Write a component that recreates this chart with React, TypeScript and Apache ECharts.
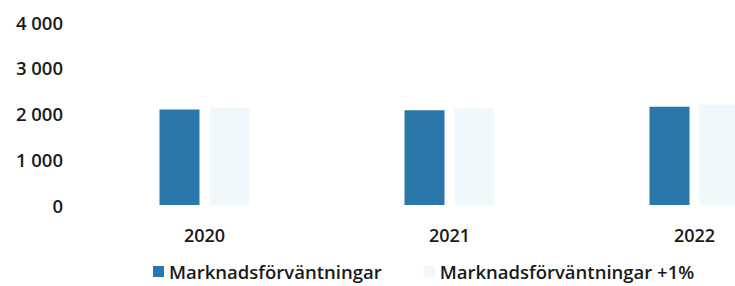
import React, { useEffect, useRef } from "react";
import * as echarts from "echarts";

const categories = ["2020", "2021", "2022"];
const seriesNames = ["Marknadsförväntningar", "Marknadsförväntningar +1%"];
const baseValues = [2090, 2070, 2150];
const plusOneValues = [2130, 2110, 2190];
const yTicks = [0, 1000, 2000, 3000, 4000];

const FONT = "'Open Sans', sans-serif";

export default function App() {
  const ref = useRef<HTMLDivElement>(null);
  useEffect(() => {
    if (!ref.current) return;
    const chart = echarts.init(ref.current, null, { renderer: "svg" });
    chart.setOption({
      animation: false,
      backgroundColor: "#ffffff",
      textStyle: { fontFamily: FONT },
      grid: { left: 82, top: 22, right: 0, height: 183, containLabel: false },
      legend: {
        left: 153,
        top: 262,
        padding: 0,
        itemWidth: 11,
        itemHeight: 11,
        itemGap: 42,
        icon: "rect",
        textStyle: { fontFamily: FONT, fontSize: 18.5, fontWeight: 600, color: "#1a1a1a" },
        data: seriesNames,
      },
      xAxis: {
        type: "category",
        data: categories,
        axisLine: { show: false },
        axisTick: { show: false },
        axisLabel: { fontFamily: FONT, fontSize: 18, fontWeight: 600, color: "#1a1a1a", margin: 21 },
      },
      yAxis: {
        type: "value",
        min: yTicks[0],
        max: yTicks[yTicks.length - 1],
        interval: 1000,
        splitLine: { show: false },
        axisLine: { show: false },
        axisTick: { show: false },
        axisLabel: {
          fontFamily: FONT,
          fontSize: 18.5,
          fontWeight: 600,
          color: "#1a1a1a",
          margin: 19,
          formatter: (v: number) => String(v).replace(/\B(?=(\d{3})+(?!\d))/g, " "),
        },
      },
      series: [
        {
          name: seriesNames[0],
          type: "bar",
          data: baseValues,
          barWidth: 40,
          barGap: "25%",
          itemStyle: { color: "#2a78a9" },
        },
        {
          name: seriesNames[1],
          type: "bar",
          data: plusOneValues,
          barWidth: 40,
          itemStyle: { color: "#f0f8fc" },
        },
      ],
    });
    return () => chart.dispose();
  }, []);
  return (
    <div
      style={{ position: "fixed", left: 0, top: 0, width: 735, height: 286, overflow: "hidden", background: "#fff" }}
    >
      <div ref={ref} style={{ width: 817, height: 286 }} />
    </div>
  );
}
